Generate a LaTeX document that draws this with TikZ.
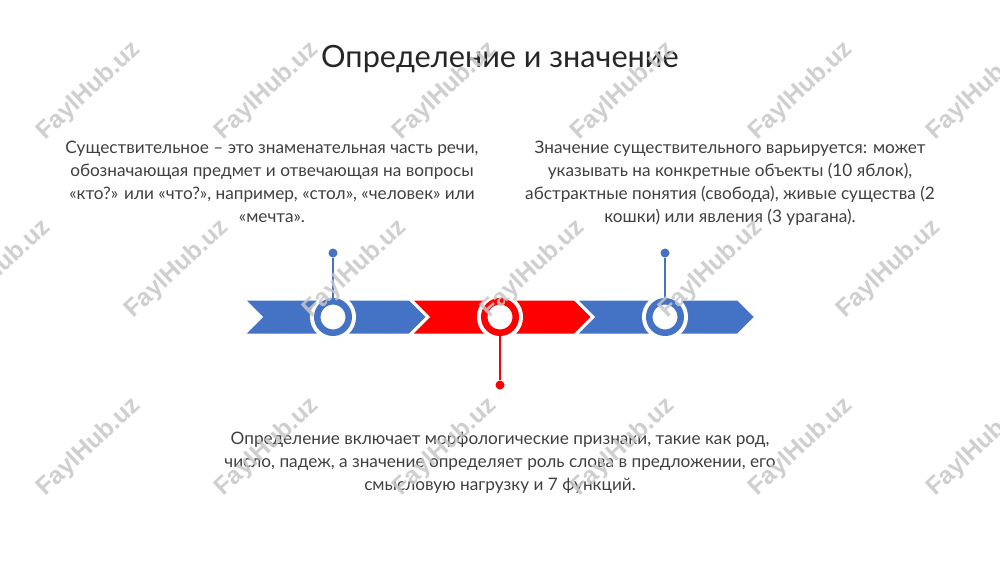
\documentclass[tikz,border=0pt]{standalone}
\usepackage{fontspec}
\setmainfont{Lato}
\newfontfamily\wmfont{Liberation Sans}
\definecolor{bandblue}{HTML}{4472C4}
\definecolor{bandred}{HTML}{FF0000}
\definecolor{txt}{HTML}{404040}
\definecolor{ttl}{HTML}{262626}
\begin{document}
\begin{tikzpicture}[x=0.75pt,y=-0.75pt,
  chev/.style={fill=#1, draw=white, line width=2.25pt, line join=miter},
  ring/.style={circle, inner sep=0pt, minimum size=23.6pt, fill=white, draw=#1, line width=4.9pt, preaction={draw=white, line width=10.9pt}},
  dot/.style={circle, inner sep=0pt, minimum size=6.75pt, fill=#1},
  stem/.style={draw=#1, line width=1.5pt},
  body/.style={text=txt, align=center, inner sep=0pt, font=\fontsize{12.9}{17.2}\selectfont},
  wm/.style={text=black!22, opacity=0.85, rotate=43, inner sep=0pt, font=\wmfont\bfseries\fontsize{18.5}{18.5}\selectfont}]
\useasboundingbox[fill=white] (0,0) rectangle (1000,562);

% title
\node[anchor=base, inner sep=0pt, text=ttl, font=\fontsize{23}{27}\selectfont] (title) at (500,67) {Определение и значение};

% chevrons
\filldraw[chev=bandblue] (243,299) -- (410,299) -- (428,317) -- (410,335) -- (243,335) -- (261,317) -- cycle;
\filldraw[chev=bandred]  (410,299) -- (575,299) -- (593,317) -- (575,335) -- (410,335) -- (428,317) -- cycle;
\filldraw[chev=bandblue] (575,299) -- (738,299) -- (756,317) -- (738,335) -- (575,335) -- (593,317) -- cycle;

% circles
\node[ring=bandblue] (c1) at (333,317) {};
\node[ring=bandred]  (c2) at (500,317) {};
\node[ring=bandblue] (c3) at (665,317) {};

% dots and stems
\node[dot=bandblue] (d1) at (333,253) {};
\node[dot=bandred]  (d2) at (500,385) {};
\node[dot=bandblue] (d3) at (665,253) {};
\draw[stem=bandblue] (d1) -- (c1);
\draw[stem=bandred]  (d2) -- (c2);
\draw[stem=bandblue] (d3) -- (c3);

% texts
\node[body, anchor=north] (t1) at (272,141) {Существительное – это знаменательная часть речи,\\обозначающая предмет и отвечающая на вопросы\\«кто?» или «что?», например, «стол», «человек» или\\«мечта».};
\node[body, anchor=north] (t3) at (730,141) {Значение существительного варьируется: может\\указывать на конкретные объекты (10 яблок),\\абстрактные понятия (свобода), живые существа (2\\кошки) или явления (3 урагана).};
\node[body, anchor=north] (t2) at (500,432) {Определение включает морфологические признаки, такие как род,\\число, падеж, а значение определяет роль слова в предложении, его\\смысловую нагрузку и 7 функций.};

% watermarks
\foreach \x in {89,267,445,623,801,979} {
  \node[wm] (wa\x) at (\x,91) {FaylHub.uz};
  \node[wm] (wc\x) at (\x,447) {FaylHub.uz};
}
\foreach \x in {-1,177,355,533,711,889} {
  \node[wm] (wb\x) at (\x,269) {FaylHub.uz};
}
\end{tikzpicture}
\end{document}
